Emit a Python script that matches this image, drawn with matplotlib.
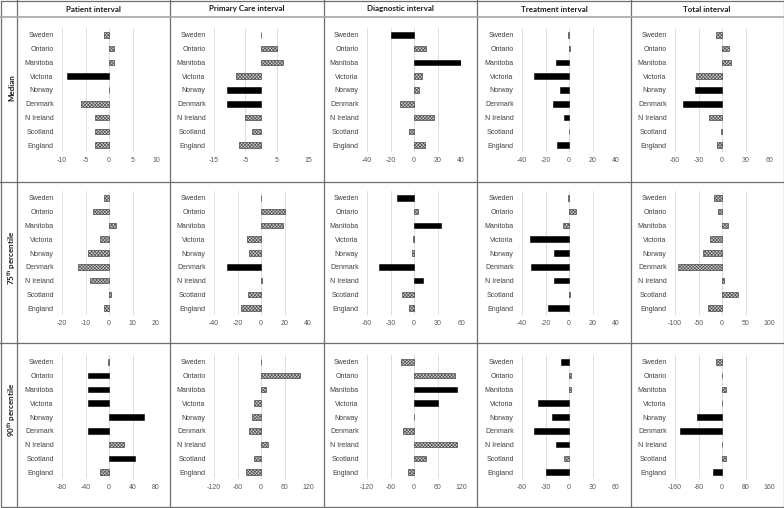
import matplotlib
matplotlib.use("Agg")
import matplotlib.pyplot as plt
from matplotlib.lines import Line2D

plt.rcParams['font.family'] = ['Liberation Sans', 'DejaVu Sans']
plt.rcParams['mathtext.fontset'] = 'custom'
plt.rcParams['mathtext.rm'] = 'Lato'
plt.rcParams['mathtext.bf'] = 'Lato:bold'
plt.rcParams['hatch.linewidth'] = 0.45

countries = ["Sweden", "Ontario", "Manitoba", "Victoria", "Norway",
             "Denmark", "N Ireland", "Scotland", "England"]
columns = ["Patient interval", "Primary Care interval", "Diagnostic interval",
           "Treatment interval", "Total interval"]
row_labels = ["Median", r"75$^{\mathbf{th}}$ percentile", r"90$^{\mathbf{th}}$ percentile"]

# Median (values in days); sig: 1 = black bar, 0 = hatched bar
median_patient = [-1, 1, 1, -9, 0, -6, -3, -3, -3]
median_patient_sig = [0, 0, 0, 1, 0, 0, 0, 0, 0]
median_primary = [0, 5, 7, -8, -11, -11, -5, -3, -7]
median_primary_sig = [0, 0, 0, 0, 1, 1, 0, 0, 0]
median_diag = [-20, 10, 40, 7, 4, -12, 17, -4, 9]
median_diag_sig = [1, 0, 1, 0, 0, 0, 0, 0, 0]
median_treat = [-1, 1, -11, -30, -8, -14, -4, 0, -10]
median_treat_sig = [0, 0, 1, 1, 1, 1, 1, 0, 1]
median_total = [-8, 9, 11, -33, -35, -50, -17, -1, -7]
median_total_sig = [0, 0, 0, 0, 1, 1, 0, 0, 0]

# 75th percentile
p75_patient = [-2, -7, 3, -4, -9, -13, -8, 1, -2]
p75_patient_sig = [0, 0, 0, 0, 0, 0, 0, 0, 0]
p75_primary = [0, 20, 19, -12, -10, -29, 1, -11, -17]
p75_primary_sig = [0, 0, 0, 0, 0, 1, 0, 0, 0]
p75_diag = [-22, 5, 35, -1, -3, -45, 12, -15, -7]
p75_diag_sig = [1, 0, 1, 0, 0, 1, 1, 0, 0]
p75_treat = [-1, 6, -5, -33, -13, -32, -13, 1, -18]
p75_treat_sig = [0, 0, 0, 1, 1, 1, 1, 0, 1]
p75_total = [-18, -8, 12, -25, -41, -93, 4, 34, -30]
p75_total_sig = [0, 0, 0, 0, 0, 0, 0, 0, 0]

# 90th percentile
p90_patient = [-1, -35, -36, -36, 60, -35, 25, 44, -15]
p90_patient_sig = [0, 1, 1, 1, 1, 1, 0, 1, 0]
p90_primary = [0, 100, 13, -19, -22, -30, 17, -19, -39]
p90_primary_sig = [0, 0, 0, 0, 0, 0, 0, 0, 0]
p90_diag = [-34, 105, 110, 61, 0, -29, 110, 31, -15]
p90_diag_sig = [0, 0, 1, 1, 0, 0, 0, 0, 0]
p90_treat = [-10, 2, 2, -40, -22, -45, -16, -6, -29]
p90_treat_sig = [1, 0, 0, 1, 1, 1, 1, 0, 1]
p90_total = [-20, 0, 13, 0, -86, -144, 0, 13, -31]
p90_total_sig = [0, 0, 0, 0, 1, 1, 0, 0, 1]

ticks_median = [[-10, -5, 0, 5, 10], [-15, -5, 5, 15], [-40, -20, 0, 20, 40],
                [-40, -20, 0, 20, 40], [-60, -30, 0, 30, 60]]
ticks_p75 = [[-20, -10, 0, 10, 20], [-40, -20, 0, 20, 40], [-60, -30, 0, 30, 60],
             [-40, -20, 0, 20, 40], [-100, -50, 0, 50, 100]]
ticks_p90 = [[-80, -40, 0, 40, 80], [-120, -60, 0, 60, 120], [-120, -60, 0, 60, 120],
             [-60, -30, 0, 30, 60], [-160, -80, 0, 80, 160]]

rows = [
    ([median_patient, median_primary, median_diag, median_treat, median_total],
     [median_patient_sig, median_primary_sig, median_diag_sig, median_treat_sig, median_total_sig],
     ticks_median),
    ([p75_patient, p75_primary, p75_diag, p75_treat, p75_total],
     [p75_patient_sig, p75_primary_sig, p75_diag_sig, p75_treat_sig, p75_total_sig],
     ticks_p75),
    ([p90_patient, p90_primary, p90_diag, p90_treat, p90_total],
     [p90_patient_sig, p90_primary_sig, p90_diag_sig, p90_treat_sig, p90_total_sig],
     ticks_p90),
]

W, H = 784, 508
fig = plt.figure(figsize=(W / 100, H / 100), dpi=100)
fig.patch.set_facecolor('white')


def fx(x):
    return x / W


def fy(y):
    return 1 - y / H


# Table layout (pixels)
col_edges = [17, 170, 324, 477, 631, 783]
row_edges = [17, 182, 343, 506]
ax_lefts = [62, 214, 367, 522, 675]
ax_width = 94
ax_tops = [28, 191, 355]
ax_height = 124
row_label_y = [88, 258, 410]

line_col = '#6f6f6f'
# outer border
fig.add_artist(Line2D([fx(0.5), fx(783.5), fx(783.5), fx(0.5), fx(0.5)],
                      [fy(0.5), fy(0.5), fy(506.5), fy(506.5), fy(0.5)],
                      color=line_col, lw=0.9))
for x in col_edges[:-1]:
    fig.add_artist(Line2D([fx(x), fx(x)], [fy(0), fy(507)], color=line_col, lw=0.9))
fig.add_artist(Line2D([fx(0), fx(784)], [fy(17), fy(17)], color='#a6a6a6', lw=1.2))
for y in row_edges[1:-1]:
    fig.add_artist(Line2D([fx(0), fx(784)], [fy(y), fy(y)], color=line_col, lw=0.9))

for j, title in enumerate(columns):
    cx = (col_edges[j] + col_edges[j + 1]) / 2
    fig.text(fx(cx), fy(9), title, ha='center', va='center', fontsize=5.8,
             fontweight='bold', family='Lato', color='#1a1a1a')

for i, lab in enumerate(row_labels):
    fig.text(fx(12), fy(row_label_y[i]), lab, ha='center', va='center', rotation=90,
             fontsize=5.8, fontweight='bold', family='Lato', color='#1a1a1a')

ypos = list(range(len(countries)))
for i, (vals_list, sig_list, ticks_list) in enumerate(rows):
    for j in range(5):
        ax = fig.add_axes([fx(ax_lefts[j]), fy(ax_tops[i] + ax_height),
                           fx(ax_width), ax_height / H])
        vals = vals_list[j]
        sigs = sig_list[j]
        for k, (v, s) in enumerate(zip(vals, sigs)):
            if s:
                ax.barh(k, v, height=0.4, color='black', edgecolor='black',
                        linewidth=0.4, zorder=3)
            else:
                ax.barh(k, v, height=0.4, color='#cfcfcf', edgecolor='#4a4a4a',
                        hatch='xxxxxxxxxx', linewidth=0.5, zorder=3)
        t = ticks_list[j]
        ax.set_xlim(t[0], t[-1])
        ax.set_ylim(len(countries) - 0.5, -0.5)
        ax.set_xticks(t)
        ax.set_xticklabels([str(v) for v in t], fontsize=5, color='#595959')
        ax.set_yticks(ypos)
        ax.set_yticklabels(countries, fontsize=5, color='#404040')
        ax.tick_params(length=0, pad=3.5)
        ax.tick_params(axis='y', pad=6)
        ax.grid(axis='x', color='#d9d9d9', linewidth=0.6, zorder=0)
        ax.set_axisbelow(True)
        for sp in ax.spines.values():
            sp.set_visible(False)
        ax.patch.set_alpha(0)

fig.savefig('out.png', dpi=100)
